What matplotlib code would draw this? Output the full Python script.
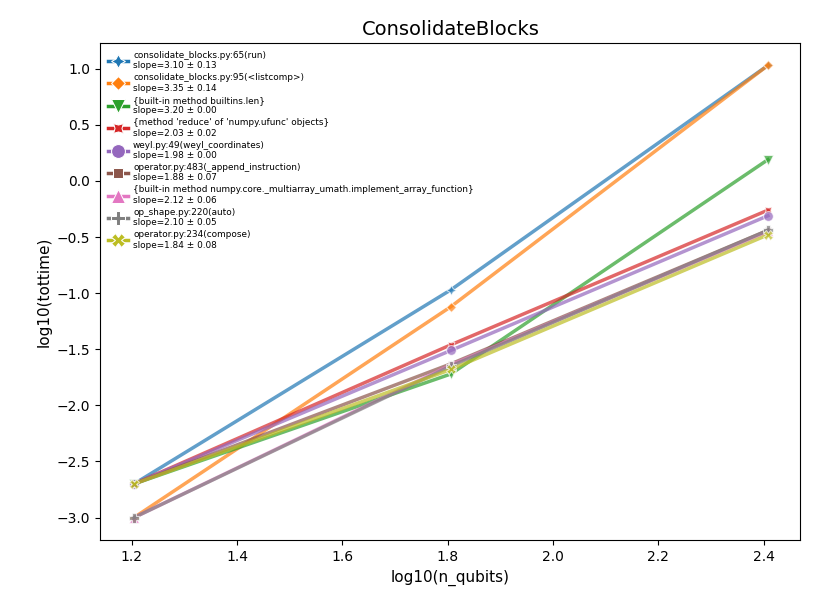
import numpy as np
import matplotlib
matplotlib.use('Agg')
import matplotlib.pyplot as plt

# log10 of qubit counts 16, 64, 256
x_vals = np.log10([16, 64, 256])

names = [
    "consolidate_blocks.py:65(run)",
    "consolidate_blocks.py:95(<listcomp>)",
    "{built-in method builtins.len}",
    "{method 'reduce' of 'numpy.ufunc' objects}",
    "weyl.py:49(weyl_coordinates)",
    "operator.py:483(_append_instruction)",
    "{built-in method numpy.core._multiarray_umath.implement_array_function}",
    "op_shape.py:220(auto)",
    "operator.py:234(compose)",
]
slopes = [3.10, 3.35, 3.20, 2.03, 1.98, 1.88, 2.12, 2.10, 1.84]
slope_errs = [0.13, 0.14, 0.00, 0.02, 0.00, 0.07, 0.06, 0.05, 0.08]

y_run = [-2.70, -0.97, 1.03]
y_listcomp = [-3.00, -1.12, 1.03]
y_len = [-2.70, -1.72, 0.19]
y_reduce = [-2.70, -1.46, -0.26]
y_weyl = [-2.70, -1.51, -0.31]
y_append = [-2.70, -1.63, -0.44]
y_implement = [-3.00, -1.64, -0.45]
y_auto = [-3.00, -1.65, -0.44]
y_compose = [-2.70, -1.68, -0.48]
series = [y_run, y_listcomp, y_len, y_reduce, y_weyl,
          y_append, y_implement, y_auto, y_compose]

markers = [(4, 1, 0), (4, 0, 0), 'v', (4, 1, 45), 'o', (4, 0, 45), '^', 'P', 'X']
colors = plt.rcParams['axes.prop_cycle'].by_key()['color']

fig, ax = plt.subplots(figsize=(8.21, 6.13), dpi=100)
handles = []
labels = []
for i, ys in enumerate(series):
    ax.plot(x_vals, ys, color=colors[i], marker=markers[i], markersize=7,
            markeredgecolor='white', markeredgewidth=0.75, linewidth=2.5,
            alpha=0.7)
    # solid proxy for the legend
    h, = ax.plot([], [], color=colors[i], marker=markers[i], markersize=10,
                 markeredgecolor='white', markeredgewidth=0.75, linewidth=2.5)
    handles.append(h)
    labels.append(f"{names[i]}\nslope={slopes[i]:.2f} ± {slope_errs[i]:.2f}")

ax.set_title("ConsolidateBlocks", fontsize=14)
ax.set_xlabel("log10(n_qubits)", fontsize=11)
ax.set_ylabel("log10(tottime)", fontsize=11)
ax.set_xlim(1.14, 2.47)
ax.set_ylim(-3.2, 1.23)
ax.legend(handles, labels, loc='upper left', fontsize=6.4, frameon=False,
          handlelength=2.2, handletextpad=0.6, labelspacing=0.34,
          borderaxespad=0.5)

plt.subplots_adjust(left=0.122, right=0.975, top=0.93, bottom=0.119)
fig.savefig('out.png', dpi=100)
